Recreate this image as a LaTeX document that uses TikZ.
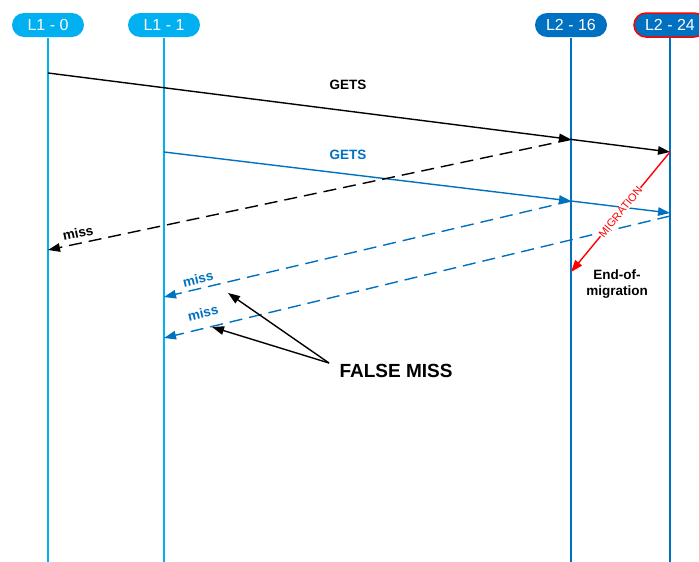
\documentclass[tikz,border=0pt]{standalone}
\usepackage{fontspec}
\setmainfont{Liberation Sans}
\usetikzlibrary{arrows.meta}
\usetikzlibrary{positioning}
\usetikzlibrary{calc}
\definecolor{lonecyan}{RGB}{0,176,240}
\definecolor{ltwoblue}{RGB}{0,112,192}
\tikzstyle{cachebox}=[rectangle,rounded corners=12pt,minimum width=72pt,minimum height=24pt,inner sep=0pt,text=white,font=\fontsize{16}{16}\selectfont]
\tikzstyle{lifeline}=[line width=1.4pt]
\tikzstyle{msg} = [draw,line width=1.4pt,-{Triangle[length=12pt,width=8.5pt]}]
\tikzstyle{missmsg} = [msg,dash pattern=on 13pt off 7pt]
\tikzstyle{msglabel} = [font=\bfseries\fontsize{13.5}{16}\selectfont]

\begin{document}
\begin{tikzpicture}[x=1pt,y=-1pt]

  \useasboundingbox (0,0) rectangle (699,562);

  % caches and their lifelines
  \foreach \x/\name/\label/\col/\rim in {48/cA/L1 - 0/lonecyan/none, 164/cB/L1 - 1/lonecyan/none, 571/cC/L2 - 16/ltwoblue/none, 670/cD/L2 - 24/ltwoblue/red}
    {
      \node[cachebox,fill=\col,draw=\rim,line width=1.5pt] (\name) at (\x,25) {\label};
      \coordinate (\name end) at (\x,562);
      \draw[lifeline,\col] (\name) -- (\name end);
    }

  % points on the lifelines
  \foreach \x/\y/\name in {48/73/getA, 571/139.4/getC, 670/152/getD,
                           164/152/bgetB, 571/201/bgetC, 670/213/bgetD,
                           48/250/missA, 164/297/bmissB, 670/216/bmissD, 164/338/cmissB,
                           571/272/migC}
    \coordinate (\name) at (\x,\y);

  % GETS requests
  \draw[msg] (getA) -- (getC);
  \draw[msg] (getC) -- (getD);
  \node[msglabel] (gets1) at (348,85) {GETS};

  \draw[msg,ltwoblue] (bgetB) -- (bgetC);
  \draw[msg,ltwoblue] (bgetC) -- (bgetD);
  \node[msglabel,ltwoblue] (gets2) at (348,155) {GETS};

  % misses
  \draw[missmsg] (getC) -- (missA);
  \node[msglabel,rotate=12] (miss1) at (78,233) {miss};

  \draw[missmsg,ltwoblue] (bgetC) -- (bmissB);
  \node[msglabel,ltwoblue,rotate=13.3] (miss2) at (198,279) {miss};

  \draw[missmsg,ltwoblue] (bmissD) -- (cmissB);
  \node[msglabel,ltwoblue,rotate=13.6] (miss3) at (203,313) {miss};

  % migration
  \draw[msg,red] (getD) -- node[sloped,fill=white,inner sep=0.6pt,font=\fontsize{11}{11}\selectfont] (mig) {MIGRATION} (migC);
  \node[msglabel,align=center] (eom) at (617,284) {End-of-\\migration};

  % false misses
  \node[font=\bfseries\fontsize{19}{19}\selectfont] (fm) at (396,371) {FALSE MISS};
  \coordinate (fmfoot) at (329,363);
  \coordinate (fmA) at (228,293);
  \coordinate (fmB) at (212,327);
  \foreach \dest in {fmA, fmB}
    \draw[msg] (fmfoot) -- (\dest);

\end{tikzpicture}
\end{document}
